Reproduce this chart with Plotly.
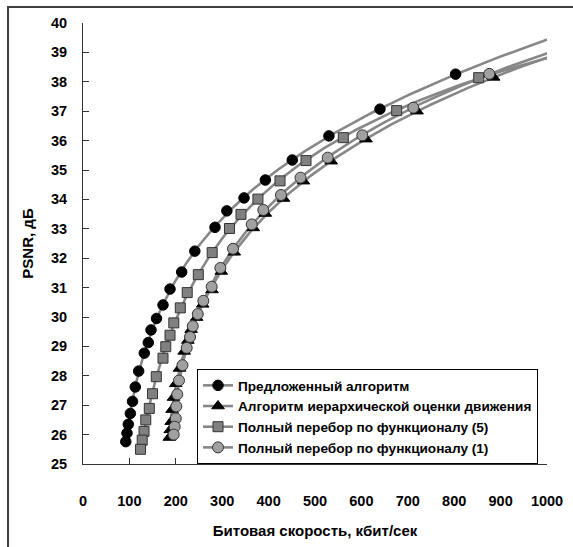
import numpy as np
import plotly.graph_objects as go

# ---- data ----
names = ["Предложенный алгоритм",
         "Алгоритм иерархической оценки движения",
         "Полный перебор по функционалу (5)",
         "Полный перебор по функционалу (1)"]

prop_rate = [803, 640, 530, 451, 393, 347, 310, 284.5, 241, 212.7, 187.5, 172.4,
             158.4, 146.6, 140.7, 132.1, 120, 112.7, 106.7, 102, 97.6, 94.8, 92.2]
prop_psnr = [38.26, 37.07, 36.16, 35.34, 34.66, 34.05, 33.61, 33.05, 32.24, 31.53,
             30.95, 30.41, 29.95, 29.56, 29.13, 28.77, 28.16, 27.62, 27.13, 26.72,
             26.35, 26.05, 25.76]

hier_rate = [885, 720, 610, 535, 475, 432, 393, 367, 326, 298, 278, 258,
             245, 233, 226, 218, 208, 200, 195, 192, 190, 188, 186]
hier_psnr = [38.15, 37.0, 36.05, 35.3, 34.62, 34.03, 33.52, 33.03, 32.2, 31.55,
             30.92, 30.43, 29.98, 29.57, 29.2, 28.83, 28.25, 27.73, 27.26, 26.85,
             26.44, 26.16, 25.9]

full5_rate = [852.8, 676, 561, 480.6, 424.6, 377, 340.5, 315.7, 278.4, 248.5, 224.6,
              209.7, 195.7, 187.5, 178.4, 172.4, 158, 149.8, 142.9, 135.3, 131.5,
              127.6, 124]
full5_psnr = [38.14, 37.02, 36.10, 35.32, 34.63, 34.01, 33.49, 33.01, 32.19, 31.44,
              30.83, 30.31, 29.80, 29.38, 28.99, 28.60, 27.97, 27.39, 26.89, 26.50,
              26.11, 25.81, 25.50]

full1_rate = [875.6, 711.9, 602, 527.4, 468.8, 426.7, 388.6, 363.6, 323.3, 296, 277.4,
              259.3, 247.4, 236.6, 230.6, 223.5, 214.4, 206.9, 203.2, 201.1, 200,
              197.6, 195.5]
full1_psnr = [38.27, 37.12, 36.18, 35.42, 34.74, 34.15, 33.64, 33.15, 32.32, 31.67,
              31.03, 30.55, 30.10, 29.69, 29.32, 28.95, 28.36, 27.84, 27.37, 26.96,
              26.55, 26.27, 26.00]

x_ticks = list(range(0, 1001, 100))
y_ticks = list(range(25, 41))

# ---- styles ----
LINE_COLOR = "#878787"
FONT = "Liberation Sans, Arial, sans-serif"
styles = [
    dict(symbol="circle", size=10.5, color="#000000", line=dict(color="#000000", width=1)),
    dict(symbol="triangle-up", size=11, color="#000000", line=dict(color="#000000", width=1)),
    dict(symbol="square", size=10, color="#808080", line=dict(color="#333333", width=1)),
    dict(symbol="circle", size=11, color="#a0a0a0", line=dict(color="#333333", width=1)),
]
series = [(prop_rate, prop_psnr), (hier_rate, hier_psnr),
          (full5_rate, full5_psnr), (full1_rate, full1_psnr)]

fig = go.Figure()

# trend curves: ln(rate) as cubic of PSNR, extended towards 1000 kbit/s
for (r, p) in series:
    p_arr = np.array(p)
    coef = np.polyfit(p_arr, np.log(np.array(r)), 3)
    yy = np.linspace(p_arr.min(), p_arr.max() + 1.6, 200)
    xx = np.exp(np.polyval(coef, yy))
    fig.add_trace(go.Scatter(x=xx, y=yy, mode="lines", showlegend=False,
                             hoverinfo="skip",
                             line=dict(color=LINE_COLOR, width=2.6)))

# markers
for (r, p), st in zip(series, styles):
    fig.add_trace(go.Scatter(x=r, y=p, mode="markers", showlegend=False,
                             marker=st, cliponaxis=False))

# legend entries
for name, st in zip(names, styles):
    fig.add_trace(go.Scatter(x=[None], y=[None], mode="lines+markers", name=name,
                             marker=st, line=dict(color=LINE_COLOR, width=2.6)))

fig.update_layout(
    width=573, height=547,
    margin=dict(l=83, r=26, t=23, b=83, autoexpand=False),
    paper_bgcolor="white", plot_bgcolor="white",
    font=dict(family=FONT, size=14, color="#000000"),
    showlegend=True,
    legend=dict(x=0.2457, y=0.2154, xanchor="left", yanchor="top",
                bgcolor="white", bordercolor="#000000", borderwidth=1,
                font=dict(family=FONT, size=13.6, color="#000000", weight="bold"),
                itemwidth=30, tracegroupgap=0),
    xaxis=dict(range=[0, 1000], tickvals=x_ticks, showgrid=False, zeroline=False,
               showline=True, linecolor="#333333", linewidth=1, automargin=False,
               ticks="inside", ticklen=6, tickcolor="#333333",
               ticklabelstandoff=24,
               tickfont=dict(family=FONT, size=14.5, weight="bold"),
               title=dict(text="Битовая скорость, кбит/сек", standoff=17,
                          font=dict(family=FONT, size=15, weight="bold"))),
    yaxis=dict(range=[25, 40], tickvals=y_ticks, showgrid=False, zeroline=False,
               showline=True, linecolor="#333333", linewidth=1, automargin=False,
               ticks="inside", ticklen=6, tickcolor="#333333",
               ticklabelstandoff=12,
               tickfont=dict(family=FONT, size=14.5, weight="bold"),
               title=dict(text="PSNR, дБ", standoff=13,
                          font=dict(family=FONT, size=15, weight="bold"))),
    shapes=[dict(type="rect", xref="paper", yref="paper",
                 x0=-0.1616, x1=1.12, y0=-0.25, y1=1.0363,
                 line=dict(color="#404040", width=2), layer="above")],
)

fig.write_html("out.html")
